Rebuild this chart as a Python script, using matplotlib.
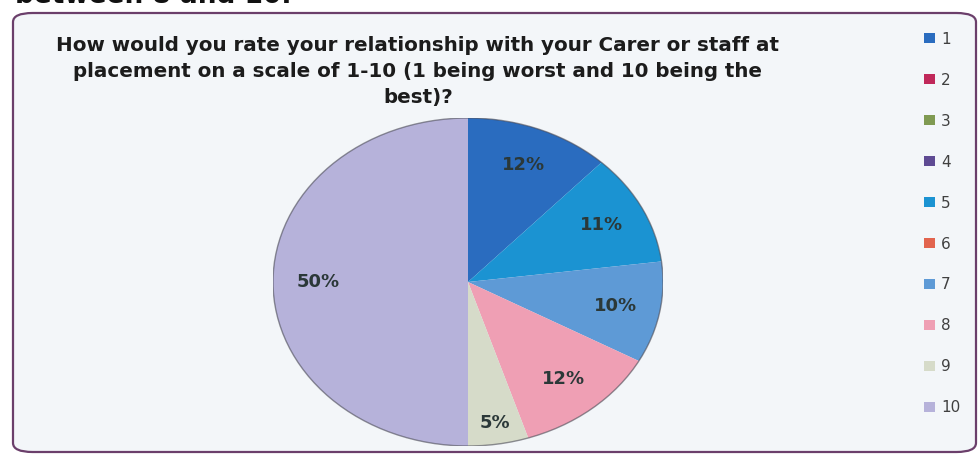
import matplotlib.pyplot as plt
from matplotlib.patches import FancyBboxPatch, Ellipse

# ratings 1-10 and the share of answers (percent)
ratings = ['1', '2', '3', '4', '5', '6', '7', '8', '9', '10']
shares = [12, 0, 0, 0, 11, 0, 10, 12, 5, 50]
colors = ['#2a6cbf', '#c0285a', '#7f9a52', '#5e4a93', '#1b93d2',
          '#e2644e', '#5e9ad6', '#ef9fb4', '#d6dbc9', '#b6b2da']

title = ('How would you rate your relationship with your Carer or staff at\n'
         'placement on a scale of 1-10 (1 being worst and 10 being the\n'
         'best)?')
cut_text = 'between 8 and 10.'

plt.rcParams['font.family'] = ['DejaVu Sans']

W, H = 979, 454
fig = plt.figure(figsize=(W / 100, H / 100), dpi=100)
fig.patch.set_facecolor('white')

# rounded frame of the chart area
frame = FancyBboxPatch((13 / W, 2 / H), 963 / W, 439 / H,
                       boxstyle='round,pad=0,rounding_size=0.02',
                       transform=fig.transFigure, facecolor='#f3f6f9',
                       edgecolor='#6b3f6b', linewidth=1.6, zorder=-5)
fig.patches.append(frame)

# line of body text above the chart, mostly cut off by the scan
fig.text(15 / W, 1 - 3 / H, cut_text, fontsize=19, fontweight='bold',
         color='#111111', va='baseline', ha='left')

fig.text(418 / W, 1 - 36 / H, title, fontsize=14.3, fontweight='bold',
         color='#1c1c1c', ha='center', va='top', linespacing=1.48)

# pie drawn in a stretched axes so it comes out elliptical
ax = fig.add_axes([273 / W, 8 / H, 390 / W, 328 / H])
ax.set_facecolor('none')
ax.set_zorder(2)


def fmt(p):
    return f'{p:.0f}%' if p > 0.5 else ''


wedges, labels, pcts = ax.pie(shares, colors=colors, startangle=90,
                              counterclock=False, autopct=fmt,
                              pctdistance=0.77, labeldistance=None,
                              wedgeprops=dict(linewidth=0),
                              textprops=dict(fontsize=13, fontweight='bold',
                                             color='#2b3838'))
ax.set_aspect('auto')
ax.set_xlim(-1.0, 1.0)
ax.set_ylim(-1.0, 1.0)

# small slice label sits nearer the rim
for v, t in zip(shares, pcts):
    if 0 < v < 8:
        x, y = t.get_position()
        t.set_position((x * 1.13, y * 1.13))

ax.add_patch(Ellipse((0, 0), 2, 2, fill=False, edgecolor='#4a4a55',
                     linewidth=1.0, alpha=0.6))
ax.axis('off')

leg = fig.legend(wedges, ratings, loc='upper left',
                 bbox_to_anchor=(916 / W, 1 - 24 / H), frameon=False,
                 fontsize=11, handlelength=0.75, handleheight=0.65,
                 handletextpad=0.4, labelspacing=1.7, borderpad=0)
for t in leg.get_texts():
    t.set_color('#404040')

fig.savefig('out.png', dpi=100)
